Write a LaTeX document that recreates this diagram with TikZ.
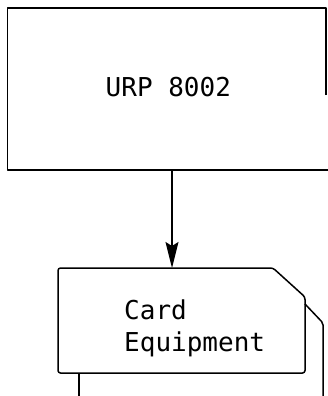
\documentclass[tikz,border=0pt]{standalone}
\usepackage{fontspec}
\newfontfamily\labelfont{DejaVu Sans Mono}
\usetikzlibrary{arrows.meta}
\begin{document}
\begin{tikzpicture}[x=1pt,y=-1pt,
  outline/.style={line width=1.5pt,line join=round},
  lbl/.style={font=\labelfont\fontsize{26}{31.5}\selectfont,inner sep=0pt,anchor=base west,align=left}]
\useasboundingbox (0,0) rectangle (327,396);
% top box
\coordinate (tbnw) at (7.5,8);
\coordinate (tbsw) at (7.5,170);
\coordinate (tbse) at (328,170);
\coordinate (tbne) at (326,8);
\coordinate (tbre) at (326,95);
\draw[outline] (tbre) -- (tbne) -- (tbnw) -- (tbsw) -- (tbse);
\node[lbl] (urp) at (105.5,96.7) {URP 8002};
% card
\coordinate (cnw) at (58,268);
\coordinate (ccut1) at (273,268);
\coordinate (ccut2) at (305,297);
\coordinate (cse) at (305,373);
\coordinate (csw) at (58,373);
\draw[outline,rounded corners=2.5pt] (cnw) -- (ccut1) -- (ccut2) -- (cse) -- (csw) -- cycle;
\node[lbl] (card) at (124,351) {Card\\Equipment};
% back card
\coordinate (b1) at (305,304);
\coordinate (b2) at (323,323);
\coordinate (b3) at (323,397);
\draw[outline,rounded corners=2pt] (b1) -- (b2) -- (b3);
% connector
\coordinate (aTop) at (172,170);
\coordinate (aEnd) at (172,268);
\draw[line width=1.4pt,-{Stealth[length=26pt,width=13pt,inset=4pt]}] (aTop) -- (aEnd);
% lower line
\coordinate (l1) at (79,373);
\coordinate (l2) at (79,397);
\draw[outline] (l1) -- (l2);
\end{tikzpicture}
\end{document}
